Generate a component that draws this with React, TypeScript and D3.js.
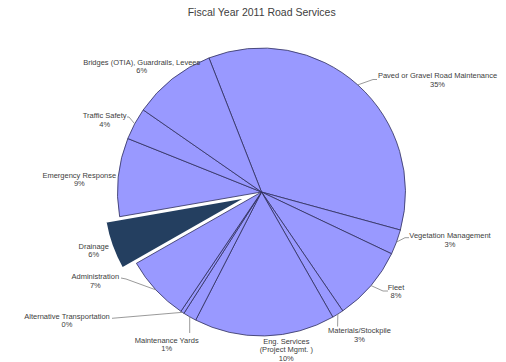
import React from "react";
import * as d3 from "d3";

const title = "Fiscal Year 2011 Road Services";

const categories = [
  "Paved or Gravel Road Maintenance",
  "Vegetation Management",
  "Fleet",
  "Materials/Stockpile",
  "Eng. Services|(Project Mgmt. )",
  "Maintenance Yards",
  "Alternative Transportation",
  "Administration",
  "Drainage",
  "Emergency Response",
  "Traffic Safety",
  "Bridges (OTIA), Guardrails, Levees",
];

// slice sizes
const values = [35.2, 2.8, 8.4, 1.3, 15.8, 1.5, 0.4, 7.3, 5.5, 8.8, 3.6, 9.4];

// percentage labels as printed on the chart
const pctLabels = ["35%", "3%", "8%", "3%", "10%", "1%", "0%", "7%", "6%", "9%", "4%", "6%"];

const explodedIndex = 8;

// layout: label centre x, first-line y, leader path points (after arc point)
const labelLayout: { x: number; y: number; leader: [number, number][] | null }[] = [
  { x: 437.5, y: 75.7, leader: [[373, 79.5], [377, 79.5]] },
  { x: 450, y: 235.7, leader: [[405, 237.7], [409, 237.7]] },
  { x: 396, y: 287.3, leader: [[383, 291], [388, 291]] },
  { x: 359.5, y: 330.7, leader: [[337.6, 326.5]] },
  { x: 286.3, y: 341, leader: null },
  { x: 166.7, y: 340, leader: [[189.7, 333]] },
  { x: 67, y: 316, leader: [[112, 318.3]] },
  { x: 95.3, y: 276.7, leader: [[126, 279], [121, 278]] },
  { x: 93.7, y: 246, leader: null },
  { x: 79.3, y: 175, leader: null },
  { x: 104.7, y: 115.7, leader: [[129, 117], [127, 117]] },
  { x: 141.7, y: 62.3, leader: null },
];

const W = 506;
const H = 362;
const cx = 261.5;
const cy = 192;
const R = 144;
const explode = 15;
const startDeg = -21.4;

export default function App() {
  const start = (startDeg * Math.PI) / 180;
  const pie = d3
    .pie<number>()
    .sort(null)
    .value((d) => d)
    .startAngle(start)
    .endAngle(start + 2 * Math.PI);
  const arcs = pie(values);
  const arc = d3.arc<d3.PieArcDatum<number>>().innerRadius(0).outerRadius(R);
  const font = "'Liberation Sans', Arial, sans-serif";
  const txt = "#404040";

  return (
    <svg width={W} height={H} style={{ position: "absolute", left: 0, top: 0, background: "#fff" }}>
      <text x={261.7} y={11.7} textAnchor="middle" dominantBaseline="central" fontFamily={font} fontSize={10.5} fill={txt}>
        {title}
      </text>
      <g transform={`translate(${cx},${cy})`}>
        {arcs.map((a, i) => {
          const mid = (a.startAngle + a.endAngle) / 2;
          const isEx = i === explodedIndex;
          const dx = isEx ? explode * Math.sin(mid) : 0;
          const dy = isEx ? -explode * Math.cos(mid) : 0;
          return (
            <path
              key={i}
              d={arc(a) || ""}
              transform={`translate(${dx},${dy})`}
              fill={isEx ? "#243F60" : "#9999FF"}
              stroke={isEx ? "#ffffff" : "#2E2E5C"}
              strokeWidth={isEx ? 2 : 0.8}
              strokeLinejoin="round"
            />
          );
        })}
      </g>
      {arcs.map((a, i) => {
        const L = labelLayout[i];
        if (!L.leader) return null;
        const mid = (a.startAngle + a.endAngle) / 2;
        const p0: [number, number] = [cx + R * Math.sin(mid), cy - R * Math.cos(mid)];
        const pts = [p0, ...L.leader];
        return (
          <path
            key={"l" + i}
            d={d3.line()(pts) || ""}
            fill="none"
            stroke="#808080"
            strokeWidth={0.8}
          />
        );
      })}
      {categories.map((c, i) => {
        const L = labelLayout[i];
        const lines = [...c.split("|"), pctLabels[i]];
        return (
          <text key={"t" + i} fontFamily={font} fontSize={7.5} fill={txt} textAnchor="middle">
            {lines.map((ln, j) => (
              <tspan key={j} x={L.x} y={L.y + j * 8.5} dominantBaseline="central">
                {ln}
              </tspan>
            ))}
          </text>
        );
      })}
    </svg>
  );
}
